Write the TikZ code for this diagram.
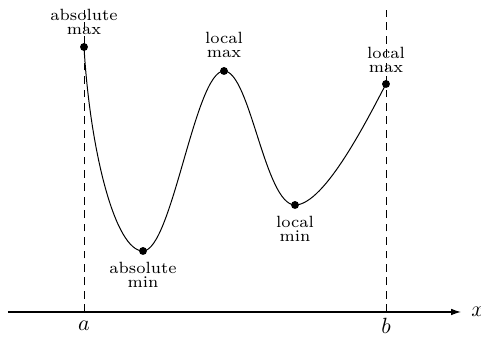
\documentclass[tikz,border=0pt]{standalone}
\usetikzlibrary{arrows.meta}
\begin{document}
\begin{tikzpicture}[x=0.4545pt,y=-0.4545pt,
  dot/.style={circle,fill=black,inner sep=0pt,minimum size=3.6pt},
  lbl/.style={font=\fontsize{7.4}{6.2}\selectfont,align=center,inner sep=0pt},
  guide/.style={dash pattern=on 3.5pt off 2.6pt,line width=0.45pt},
  curve/.style={line width=0.45pt},
  axis/.style={line width=0.5pt,-{Latex[length=4.5pt,width=3pt]}}]
\useasboundingbox (0,0) rectangle (481,337);
% axis
\coordinate (xl) at (8,312);
\coordinate (xr) at (461,312);
\draw[axis] (xl) -- (xr);
\node[anchor=west,inner sep=0pt] (xlab) at (471,312) {$x$};
% guides
\coordinate (ab) at (84,312);
\coordinate (at) at (84,10);
\coordinate (bb) at (386,312);
\coordinate (bt) at (386,10);
\draw[guide] (ab) -- (at);
\draw[guide] (bb) -- (bt);
\node[anchor=base] (alab) at (84,331) {$a$};
\node[anchor=base] (blab) at (386,334) {$b$};
% extrema
\coordinate (A) at (84,47);
\coordinate (B) at (143,251);
\coordinate (C) at (224,71);
\coordinate (D) at (295,205);
\coordinate (E) at (386,84);
\draw[curve] (A) .. controls (90,150) and (115,251) .. (B)
  .. controls (172,251) and (195,71) .. (C)
  .. controls (250,71) and (265,205) .. (D)
  .. controls (325,205) and (369,116) .. (E);
\node[dot] (dA) at (A) {};
\node[dot] (dB) at (B) {};
\node[dot] (dC) at (C) {};
\node[dot] (dD) at (D) {};
\node[dot] (dE) at (E) {};
\node[lbl,anchor=south] (lA) at (84,35) {absolute\\max};
\node[lbl,anchor=north] (lB) at (143,262) {absolute\\min};
\node[lbl,anchor=south] (lC) at (224,58) {local\\max};
\node[lbl,anchor=south] (lE) at (386,73) {local\\max};
\node[lbl,anchor=north] (lD) at (295,216) {local\\min};
\end{tikzpicture}
\end{document}
